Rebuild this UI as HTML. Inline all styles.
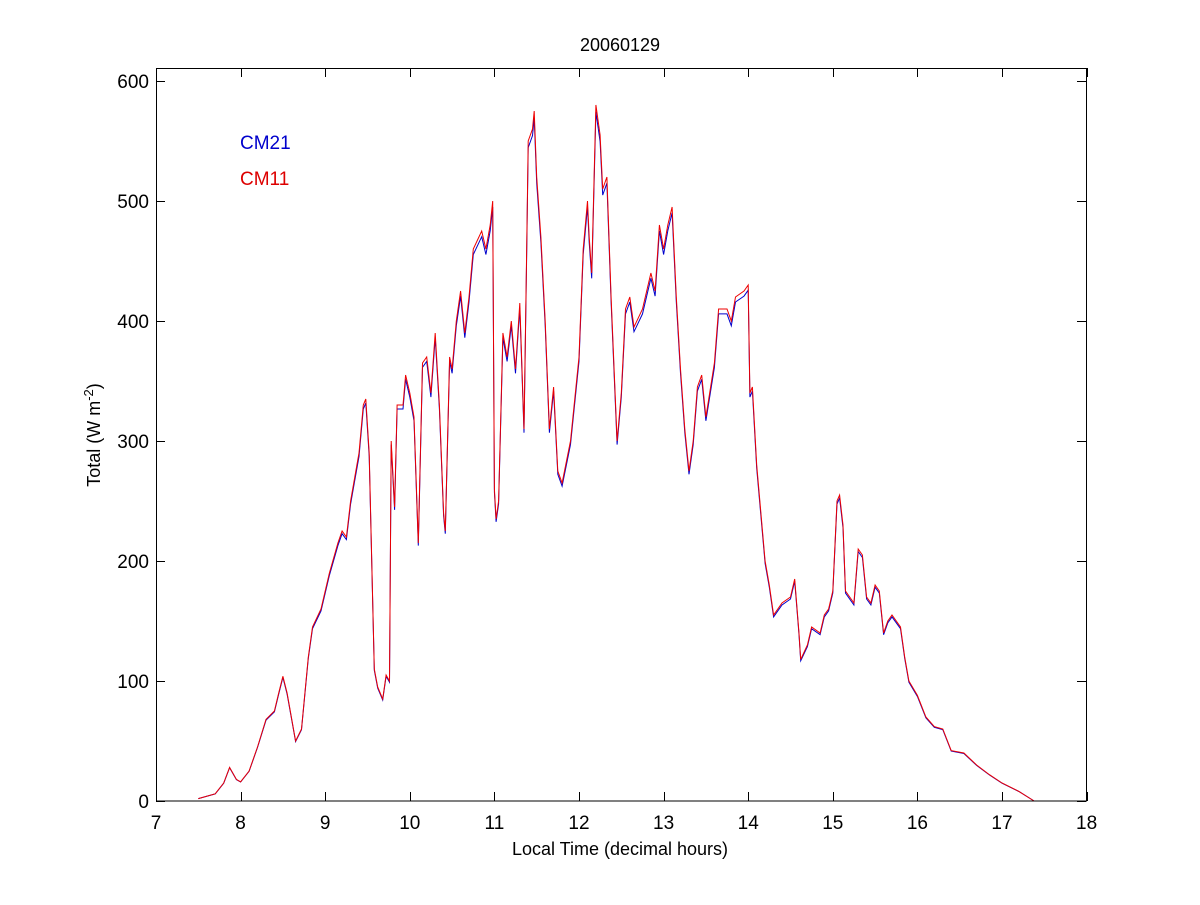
<!DOCTYPE html>
<html><head><meta charset="utf-8"><style>
html,body{margin:0;padding:0;background:#fff;}
svg text{font-family:"Liberation Sans",Arial,sans-serif;}
</style></head><body>
<svg id="s" width="1200" height="900" xmlns="http://www.w3.org/2000/svg">
<rect width="1200" height="900" fill="#fff"/>
<g id="plot"></g>
<rect x="156.5" y="68.5" width="930" height="732.5" fill="none" stroke="#000" stroke-width="1"/>
<g id="ticks" stroke="#000" stroke-width="1"></g>
<g id="labels" font-size="19" fill="#000"></g>
<text x="620" y="51" font-size="18" text-anchor="middle">20060129</text>
<text x="620" y="855" font-size="18" text-anchor="middle">Local Time (decimal hours)</text>
<text transform="translate(100,435) rotate(-90)" font-size="18" text-anchor="middle">Total (W m<tspan dy="-7" font-size="13">-2</tspan><tspan dy="7">)</tspan></text>
<text x="240" y="149" font-size="19" fill="#0000cc">CM21</text>
<text x="240" y="185" font-size="19" fill="#dd0000">CM11</text>
</svg>
<script>
var X=function(t){return 156+(t-7)*84.6},Y=function(v){return 801-v*1.2};
var ns="http://www.w3.org/2000/svg";
var tk=document.getElementById('ticks'),lb=document.getElementById('labels');
function el(p,n,a,txt){var e=document.createElementNS(ns,n);for(var k in a)e.setAttribute(k,a[k]);if(txt)e.textContent=txt;p.appendChild(e);return e;}
for(var t=7;t<=18;t++){var x=Math.round(X(t))+0.5;el(tk,'line',{x1:x,x2:x,y1:801,y2:792});el(tk,'line',{x1:x,x2:x,y1:68,y2:77});el(lb,'text',{x:X(t),y:829,'text-anchor':'middle'},''+t);}
for(var v=0;v<=600;v+=100){var y=Math.round(Y(v))+0.5;el(tk,'line',{x1:156,x2:165,y1:y,y2:y});el(tk,'line',{x1:1086,x2:1077,y1:y,y2:y});el(lb,'text',{x:149,y:Y(v)+7,'text-anchor':'end'},''+v);}
var d=[7.5,2,7.7,6,7.8,15,7.87,28,7.95,18,8.0,16,8.1,25,8.2,45,8.3,68,8.4,75,8.45,90,8.5,104,8.55,90,8.65,50,8.72,60,8.8,120,8.85,145,8.95,160,9.05,190,9.15,215,9.2,225,9.25,220,9.3,250,9.35,270,9.4,290,9.45,330,9.48,335,9.52,290,9.58,110,9.62,95,9.68,85,9.72,105,9.76,100,9.78,300,9.82,245,9.85,330,9.92,330,9.95,355,10.0,340,10.05,320,10.1,215,10.15,365,10.2,370,10.25,340,10.3,390,10.35,330,10.4,240,10.42,225,10.47,370,10.5,360,10.55,400,10.6,425,10.65,390,10.7,420,10.75,460,10.85,475,10.9,460,10.95,480,10.98,500,11.0,260,11.02,235,11.05,250,11.1,390,11.15,370,11.2,400,11.25,360,11.3,415,11.35,310,11.38,450,11.4,550,11.45,560,11.47,575,11.5,520,11.55,470,11.6,400,11.65,310,11.7,345,11.75,275,11.8,265,11.9,300,12.0,370,12.05,460,12.1,500,12.12,470,12.15,440,12.2,580,12.25,555,12.28,510,12.33,520,12.38,420,12.45,300,12.5,340,12.55,410,12.6,420,12.65,395,12.75,410,12.85,440,12.9,425,12.95,480,13.0,460,13.05,480,13.1,495,13.15,420,13.2,360,13.25,310,13.3,275,13.35,300,13.4,345,13.45,355,13.5,320,13.6,365,13.65,410,13.75,410,13.8,400,13.85,420,13.95,425,14.0,430,14.02,340,14.05,345,14.1,280,14.2,200,14.25,180,14.3,155,14.4,165,14.5,170,14.55,185,14.6,140,14.62,118,14.7,130,14.75,145,14.85,140,14.9,155,14.95,160,15.0,175,15.05,250,15.08,255,15.12,230,15.15,175,15.25,165,15.3,210,15.35,205,15.4,170,15.45,165,15.5,180,15.55,175,15.6,140,15.65,150,15.7,155,15.8,145,15.85,120,15.9,100,16.0,88,16.1,70,16.2,62,16.3,60,16.4,42,16.55,40,16.7,30,16.85,22,17.0,15,17.2,8,17.38,0];
var pb=[],pr=[];
for(var i=0;i<d.length;i+=2){pb.push(X(d[i]).toFixed(1)+','+(Y(d[i+1]*0.99)).toFixed(1));pr.push(X(d[i]).toFixed(1)+','+Y(d[i+1]).toFixed(1));}
var g=document.getElementById('plot');
el(g,'polyline',{points:pb.join(' '),fill:'none',stroke:'#0000cc','stroke-width':1});
el(g,'polyline',{points:pr.join(' '),fill:'none',stroke:'#ee0000','stroke-width':1});
</script>
</body></html>
